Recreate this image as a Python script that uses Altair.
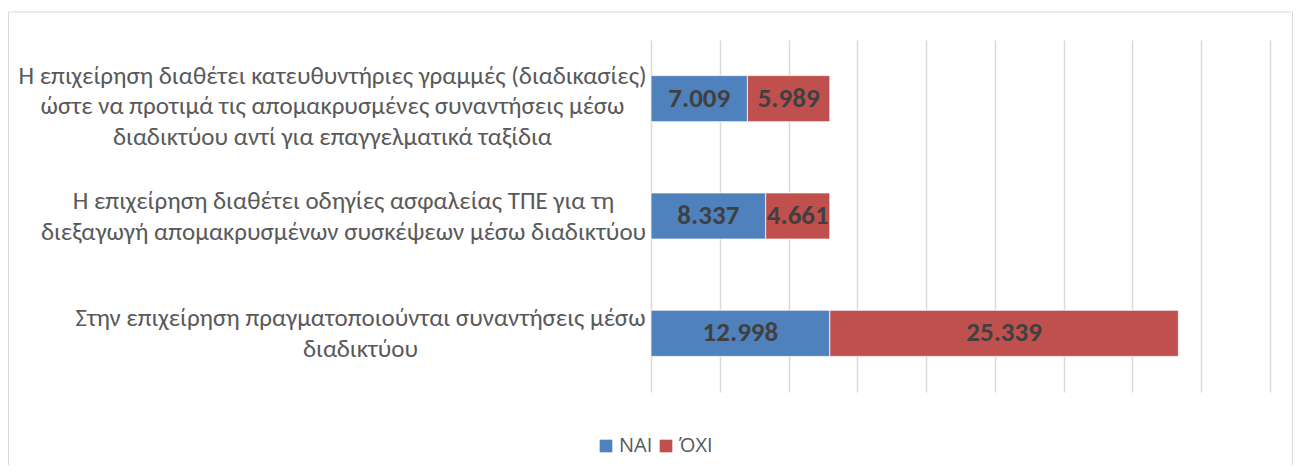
import altair as alt
import pandas as pd

categories = [
    "Η επιχείρηση διαθέτει κατευθυντήριες γραμμές (διαδικασίες)|ώστε να προτιμά τις απομακρυσμένες συναντήσεις μέσω|διαδικτύου αντί για επαγγελματικά ταξίδια",
    "Η επιχείρηση διαθέτει οδηγίες ασφαλείας ΤΠΕ για τη|διεξαγωγή απομακρυσμένων συσκέψεων μέσω διαδικτύου",
    "Στην επιχείρηση πραγματοποιούνται συναντήσεις μέσω|διαδικτύου",
]
series = ["ΝΑΙ", "ΌΧΙ"]
nai_values = [7009, 8337, 12998]
oxi_values = [5989, 4661, 25339]
x_ticks = [0, 5000, 10000, 15000, 20000, 25000, 30000, 35000, 40000, 45000]
colors = ["#4F81BD", "#C0504D"]

rows = []
for c, n, o in zip(categories, nai_values, oxi_values):
    rows.append({"category": c, "series": series[0], "value": n, "ord": 0})
    rows.append({"category": c, "series": series[1], "value": o, "ord": 1})
df = pd.DataFrame(rows)

FONT = "Calibri, Carlito, 'Open Sans', sans-serif"

label_padding = {
    "condition": [
        {"test": "indexof(datum.value, 'κατευθυντήριες') >= 0", "value": 319},
        {"test": "indexof(datum.value, 'ΤΠΕ') >= 0", "value": 308},
    ],
    "value": 291,
}
label_offset = {
    "condition": [
        {"test": "indexof(datum.value, 'κατευθυντήριες') >= 0", "value": -23},
    ],
    "value": -15,
}

y_enc = alt.Y(
    "category:N",
    sort=categories,
    scale=alt.Scale(paddingInner=0.607, paddingOuter=0.3035),
    axis=alt.Axis(
        title=None,
        labelExpr="split(datum.label, '|')",
        domain=False,
        ticks=False,
        labelAlign="center",
        labelBaseline="middle",
        labelPadding=label_padding,
        labelOffset=label_offset,
        labelLimit=0,
        labelFontSize=25,
        labelLineHeight=30.5,
        labelColor="#595959",
        labelFont=FONT,
    ),
)

x_scale = alt.Scale(domain=[0, 45000], nice=False, zero=True)
x_axis = alt.Axis(
    title=None, labels=False, ticks=False, domain=False,
    values=x_ticks, gridColor="#d9d9d9", gridWidth=1.5, grid=True,
)

bars = alt.Chart(df).mark_bar(stroke="white", strokeWidth=0.75).encode(
    x=alt.X("value:Q", stack="zero", scale=x_scale, axis=x_axis),
    y=y_enc,
    color=alt.Color(
        "series:N",
        scale=alt.Scale(domain=series, range=colors),
        legend=alt.Legend(
            title=None, orient="none", legendX=-55, legendY=396,
            direction="horizontal", symbolType="square", symbolSize=160,
            symbolStrokeWidth=0, labelFontSize=20, labelColor="#595959",
            labelFont="'Open Sans', sans-serif", columnPadding=3, labelOffset=3,
        ),
    ),
    order=alt.Order("ord:Q"),
)

texts = alt.Chart(df).transform_stack(
    stack="value", groupby=["category"], as_=["v0", "v1"],
    sort=[alt.SortField("ord", order="ascending")],
).transform_calculate(
    mid="(datum.v0 + datum.v1) / 2",
    lab="replace(format(datum.value, ','), ',', '.')",
).mark_text(
    font=FONT, fontSize=27, fontWeight="bold", color="#404040", baseline="middle", align="center"
).encode(
    x=alt.X("mid:Q", scale=x_scale, axis=x_axis),
    y=alt.Y("category:N", sort=categories),
    text="lab:N",
)

border = alt.Chart(alt.Data(values=[{"k": 1}])).mark_rect(
    filled=False, stroke="#d9d9d9", strokeWidth=1, clip=False
).encode(
    x=alt.value(-642.5), x2=alt.value(641.5), y=alt.value(-28), y2=alt.value(460)
)

chart = alt.layer(bars, texts, border).properties(
    width=619,
    height=352,
    padding={"left": 643, "top": 32, "right": 23, "bottom": 73},
    autosize="none",
    background="white",
).configure_view(stroke=None)

chart.save("out.html", embed_options={"renderer": "svg", "actions": False})
